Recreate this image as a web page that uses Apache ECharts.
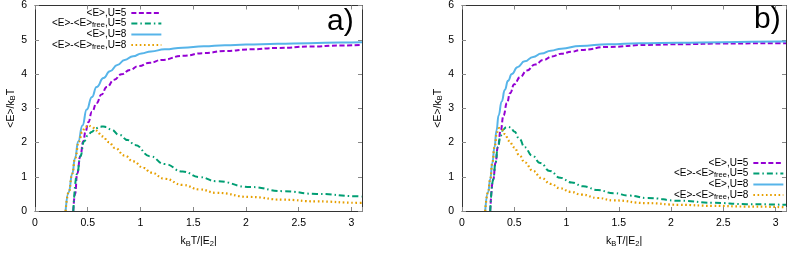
<!DOCTYPE html>
<html><head><meta charset="utf-8">
<script src="https://cdn.jsdelivr.net/npm/echarts@6/dist/echarts.min.js"></script>
<style>html,body{margin:0;padding:0;background:#fff}#c{width:789px;height:253px}</style>
</head><body><div id="c"></div>
<script>
// ---- data (panel a) ----
const aBlueX = [0.29,0.32,0.353,0.38,0.41,0.45,0.49,0.54,0.584,0.65,0.71,0.78,0.85,0.93,1.01,1.1,1.23,1.4,1.6,1.8,2.0,2.3,2.6,2.9,3.1];
const aBlueY = [0,0.55,1.09,1.55,2.03,2.5,2.96,3.33,3.62,3.88,4.08,4.26,4.41,4.52,4.6,4.66,4.72,4.77,4.81,4.84,4.86,4.88,4.9,4.92,4.93];
const aPurpX = [0.363,0.38,0.40,0.43,0.457,0.48,0.505,0.54,0.584,0.63,0.68,0.75,0.82,0.9,0.98,1.09,1.2,1.4,1.6,1.8,2.04,2.3,2.6,2.9,3.1];
const aPurpY = [0,0.5,1.09,1.6,2.03,2.33,2.59,2.9,3.15,3.4,3.62,3.83,3.99,4.12,4.23,4.33,4.41,4.53,4.61,4.67,4.72,4.76,4.8,4.83,4.85];
const aGreenX = [0.363,0.40,0.43,0.465,0.50,0.537,0.58,0.62,0.647,0.68,0.72,0.8,0.88,0.947,1.09,1.23,1.4,1.56,1.72,2.04,2.35,2.67,3.06,3.1];
const aGreenY = [0,1.09,1.6,2.03,2.2,2.31,2.42,2.46,2.47,2.45,2.38,2.22,2.07,1.93,1.6,1.37,1.15,0.99,0.87,0.70,0.58,0.50,0.43,0.42];
const aOrangeX = [0.29,0.32,0.353,0.38,0.417,0.448,0.475,0.505,0.54,0.58,0.64,0.7,0.757,0.85,0.93,1.03,1.1,1.23,1.4,1.56,1.72,2.04,2.35,2.67,3.06,3.1];
const aOrangeY = [0,0.55,1.09,1.55,2.03,2.31,2.45,2.50,2.46,2.35,2.18,2.01,1.84,1.62,1.45,1.26,1.12,0.94,0.76,0.63,0.53,0.41,0.33,0.28,0.24,0.24];
// ---- data (panel b) ----
const bBlueX = [0.222,0.25,0.27,0.29,0.311,0.33,0.35,0.38,0.41,0.44,0.477,0.53,0.6,0.68,0.76,0.85,0.95,1.13,1.4,1.7,2.08,2.5,3.04,3.1];
const bBlueY = [0,0.55,0.93,1.4,1.86,2.35,2.79,3.2,3.54,3.8,4.0,4.2,4.37,4.5,4.6,4.68,4.74,4.82,4.87,4.9,4.91,4.93,4.95,4.95];
const bPurpX = [0.27,0.30,0.32,0.343,0.37,0.397,0.43,0.46,0.5,0.556,0.62,0.7,0.78,0.86,0.95,1.05,1.13,1.4,1.77,2.1,2.5,3.04,3.1];
const bPurpY = [0,0.93,1.4,1.86,2.35,2.79,3.15,3.44,3.7,3.91,4.1,4.28,4.41,4.51,4.59,4.65,4.7,4.79,4.85,4.87,4.89,4.90,4.90];
const bGreenX = [0.27,0.30,0.32,0.343,0.37,0.395,0.42,0.445,0.47,0.5,0.55,0.6,0.67,0.75,0.84,0.94,1.05,1.16,1.3,1.45,1.6,1.77,2.08,2.4,2.72,3.1];
const bGreenY = [0,0.93,1.4,1.86,2.2,2.38,2.44,2.46,2.42,2.32,2.1,1.86,1.62,1.40,1.17,0.97,0.83,0.72,0.61,0.52,0.45,0.38,0.30,0.24,0.20,0.18];
const bOrangeX = [0.222,0.25,0.27,0.29,0.311,0.335,0.356,0.38,0.41,0.45,0.5,0.55,0.6,0.68,0.76,0.85,0.94,1.04,1.14,1.3,1.45,1.77,2.08,2.4,2.72,3.1];
const bOrangeY = [0,0.55,0.93,1.4,1.86,2.3,2.42,2.38,2.25,2.05,1.86,1.62,1.42,1.17,0.96,0.79,0.66,0.56,0.48,0.38,0.31,0.23,0.18,0.15,0.13,0.11];

const seriesNames = ['<E>,U=5', '<E>-<E>free,U=5', '<E>,U=8', '<E>-<E>free,U=8'];
const legendLabels = {
  '<E>,U=5': '{n|<E>,U=5}',
  '<E>-<E>free,U=5': '{n|<E>-<E>}{s|free}{n|,U=5}',
  '<E>,U=8': '{n|<E>,U=8}',
  '<E>-<E>free,U=8': '{n|<E>-<E>}{s|free}{n|,U=8}'
};
const xTicks = [0, 0.5, 1, 1.5, 2, 2.5, 3];
const yTicks = [0, 1, 2, 3, 4, 5, 6];
const panelLabels = ['a)', 'b)'];

const FONT = 'Liberation Sans, Arial, sans-serif';
const colors = ['#9400d3', '#009e73', '#56b4e9', '#e69f00'];
const lineTypes = [[5, 2.5], [6, 3, 1.5, 3], 'solid', [1.6, 2.6]];

function pairs(xs, ys) { return xs.map((x, i) => [x, ys[i]]); }
const panelData = [
  [pairs(aPurpX, aPurpY), pairs(aGreenX, aGreenY), pairs(aBlueX, aBlueY), pairs(aOrangeX, aOrangeY)],
  [pairs(bPurpX, bPurpY), pairs(bGreenX, bGreenY), pairs(bBlueX, bBlueY), pairs(bOrangeX, bOrangeY)]
];

const grids = [
  { left: 35, top: 5, width: 327, height: 214 },
  { left: 462, top: 5, width: 326, height: 215 }
];

const rich = {
  n: { fontSize: 10, fontFamily: FONT, color: '#000', lineHeight: 11, verticalAlign: 'middle' },
  s: { fontSize: 7.5, fontFamily: FONT, color: '#000', lineHeight: 5, verticalAlign: 'bottom' }
};
const richAxis = {
  n: { fontSize: 10.5, fontFamily: FONT, color: '#000', lineHeight: 13, verticalAlign: 'middle' },
  s: { fontSize: 7.5, fontFamily: FONT, color: '#000', lineHeight: 5, verticalAlign: 'bottom' }
};

const xAxes = [], yAxes = [], series = [];
grids.forEach((g, gi) => {
  const common = { gridIndex: gi, type: 'value', splitLine: { show: false },
    axisLine: { show: true, onZero: false, lineStyle: { color: '#333', width: 1 } },
    axisTick: { show: true, inside: true, length: 4, lineStyle: { color: '#888' } } };
  xAxes.push(Object.assign({}, common, {
    position: 'bottom', min: xTicks[0], max: 3.1, interval: 0.5,
    name: '{n|k}{s|B}{n|T/|E}{s|2}{n||}', nameLocation: 'middle', nameGap: 24,
    nameTextStyle: { rich: richAxis },
    axisLabel: { fontSize: 10.5, fontFamily: FONT, color: '#000', margin: 7,
      formatter: v => (xTicks.some(t => Math.abs(t - v) < 1e-6) ? String(v) : '') }
  }));
  xAxes.push(Object.assign({}, common, {
    position: 'top', min: xTicks[0], max: 3.1, interval: 0.5, axisLabel: { show: false }
  }));
  yAxes.push(Object.assign({}, common, {
    position: 'left', min: yTicks[0], max: 6, interval: 1,
    name: '{n|<E>/k}{s|B}{n|T}', nameLocation: 'middle', nameGap: 17,
    nameTextStyle: { rich: richAxis },
    axisLabel: { fontSize: 10.5, fontFamily: FONT, color: '#000', margin: 8 }
  }));
  yAxes.push(Object.assign({}, common, {
    position: 'right', min: yTicks[0], max: 6, interval: 1, axisLabel: { show: false }
  }));
  seriesNames.forEach((nm, si) => {
    series.push({
      name: nm, type: 'line', xAxisIndex: gi * 2, yAxisIndex: gi * 2,
      data: panelData[gi][si], showSymbol: false, symbol: 'none',
      smooth: 0.5, smoothMonotone: 'x', clip: true, animation: false,
      lineStyle: { color: colors[si], width: si === 3 ? 2.2 : 2, type: lineTypes[si] },
      itemStyle: { color: colors[si] }
    });
  });
});

const legendCommon = {
  orient: 'vertical', align: 'right', itemWidth: 30, itemHeight: 10, itemGap: 0.5,
  data: seriesNames, padding: 0,
  itemStyle: { opacity: 0 },
  formatter: nm => legendLabels[nm],
  textStyle: { width: 92, align: 'right', rich: rich }
};

const chart = echarts.init(document.getElementById('c'), null, { renderer: 'canvas' });
chart.setOption({
  animation: false,
  grid: grids,
  xAxis: xAxes, yAxis: yAxes, series: series,
  legend: [
    Object.assign({}, legendCommon, { id: 'lgA', left: 52, top: 8 }),
    Object.assign({}, legendCommon, { id: 'lgB', left: 674, top: 158 })
  ],
  graphic: [
    { type: 'text', left: 327, top: 7, style: { text: panelLabels[0], fontSize: 30, fontFamily: FONT, fill: '#000' } },
    { type: 'text', left: 754, top: 5, style: { text: panelLabels[1], fontSize: 30, fontFamily: FONT, fill: '#000' } }
  ]
});
</script></body></html>
